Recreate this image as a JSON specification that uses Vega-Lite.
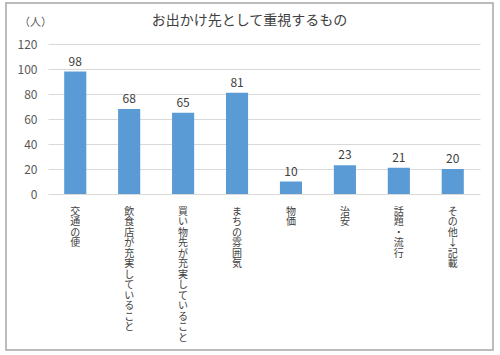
{
  "$schema": "https://vega.github.io/schema/vega-lite/v6.json",
  "autosize": "none",
  "width": 487,
  "height": 347,
  "padding": {"left": 6, "top": 3, "right": 7, "bottom": 5},
  "background": "white",
  "config": {
    "font": "Noto Sans CJK JP",
    "view": {"stroke": "#a6a6a6", "strokeWidth": 1.5}
  },
  "title": {
    "text": "お出かけ先として重視するもの",
    "fontSize": 14,
    "fontWeight": "normal",
    "color": "#404040",
    "offset": -25,
    "anchor": "middle"
  },
  "data": {
    "values": [
      {"item": "交通の便", "count": 98},
      {"item": "飲食店が充実していること", "count": 68},
      {"item": "買い物先が充実していること", "count": 65},
      {"item": "まちの雰囲気", "count": 81},
      {"item": "物価", "count": 10},
      {"item": "治安", "count": 23},
      {"item": "話題・流行", "count": 21},
      {"item": "その他↓記載", "count": 20}
    ]
  },
  "encoding": {
    "x": {
      "field": "item",
      "type": "nominal",
      "sort": null,
      "scale": {"range": [42, 474], "paddingInner": 0.59, "paddingOuter": 0.3},
      "axis": {
        "title": null,
        "orient": "bottom",
        "offset": -156,
        "domain": false,
        "ticks": false,
        "labelAngle": 0,
        "labelAlign": "center",
        "labelBaseline": "top",
        "labelPadding": 12,
        "labelFontSize": 10,
        "labelLineHeight": 10.5,
        "labelColor": "#404040",
        "labelExpr": "split(datum.label, '')"
      }
    },
    "y": {
      "field": "count",
      "type": "quantitative",
      "scale": {"domain": [0, 120], "range": [191, 41], "nice": false},
      "axis": {
        "values": [0, 20, 40, 60, 80, 100, 120],
        "offset": -42,
        "domain": false,
        "ticks": false,
        "labelPadding": 11,
        "labelFontSize": 12,
        "labelColor": "#595959",
        "gridColor": "#d9d9d9",
        "title": "（人）",
        "titleAngle": 0,
        "titleFontSize": 11,
        "titleFontWeight": "normal",
        "titleColor": "#595959",
        "titleAlign": "center",
        "titleBaseline": "middle",
        "titleX": -13,
        "titleY": 19
      }
    }
  },
  "layer": [
    {"mark": {"type": "bar", "color": "#5b9bd5"}},
    {
      "mark": {"type": "text", "baseline": "bottom", "dy": -3, "fontSize": 12, "color": "#404040"},
      "encoding": {"text": {"field": "count", "type": "quantitative"}}
    }
  ]
}
